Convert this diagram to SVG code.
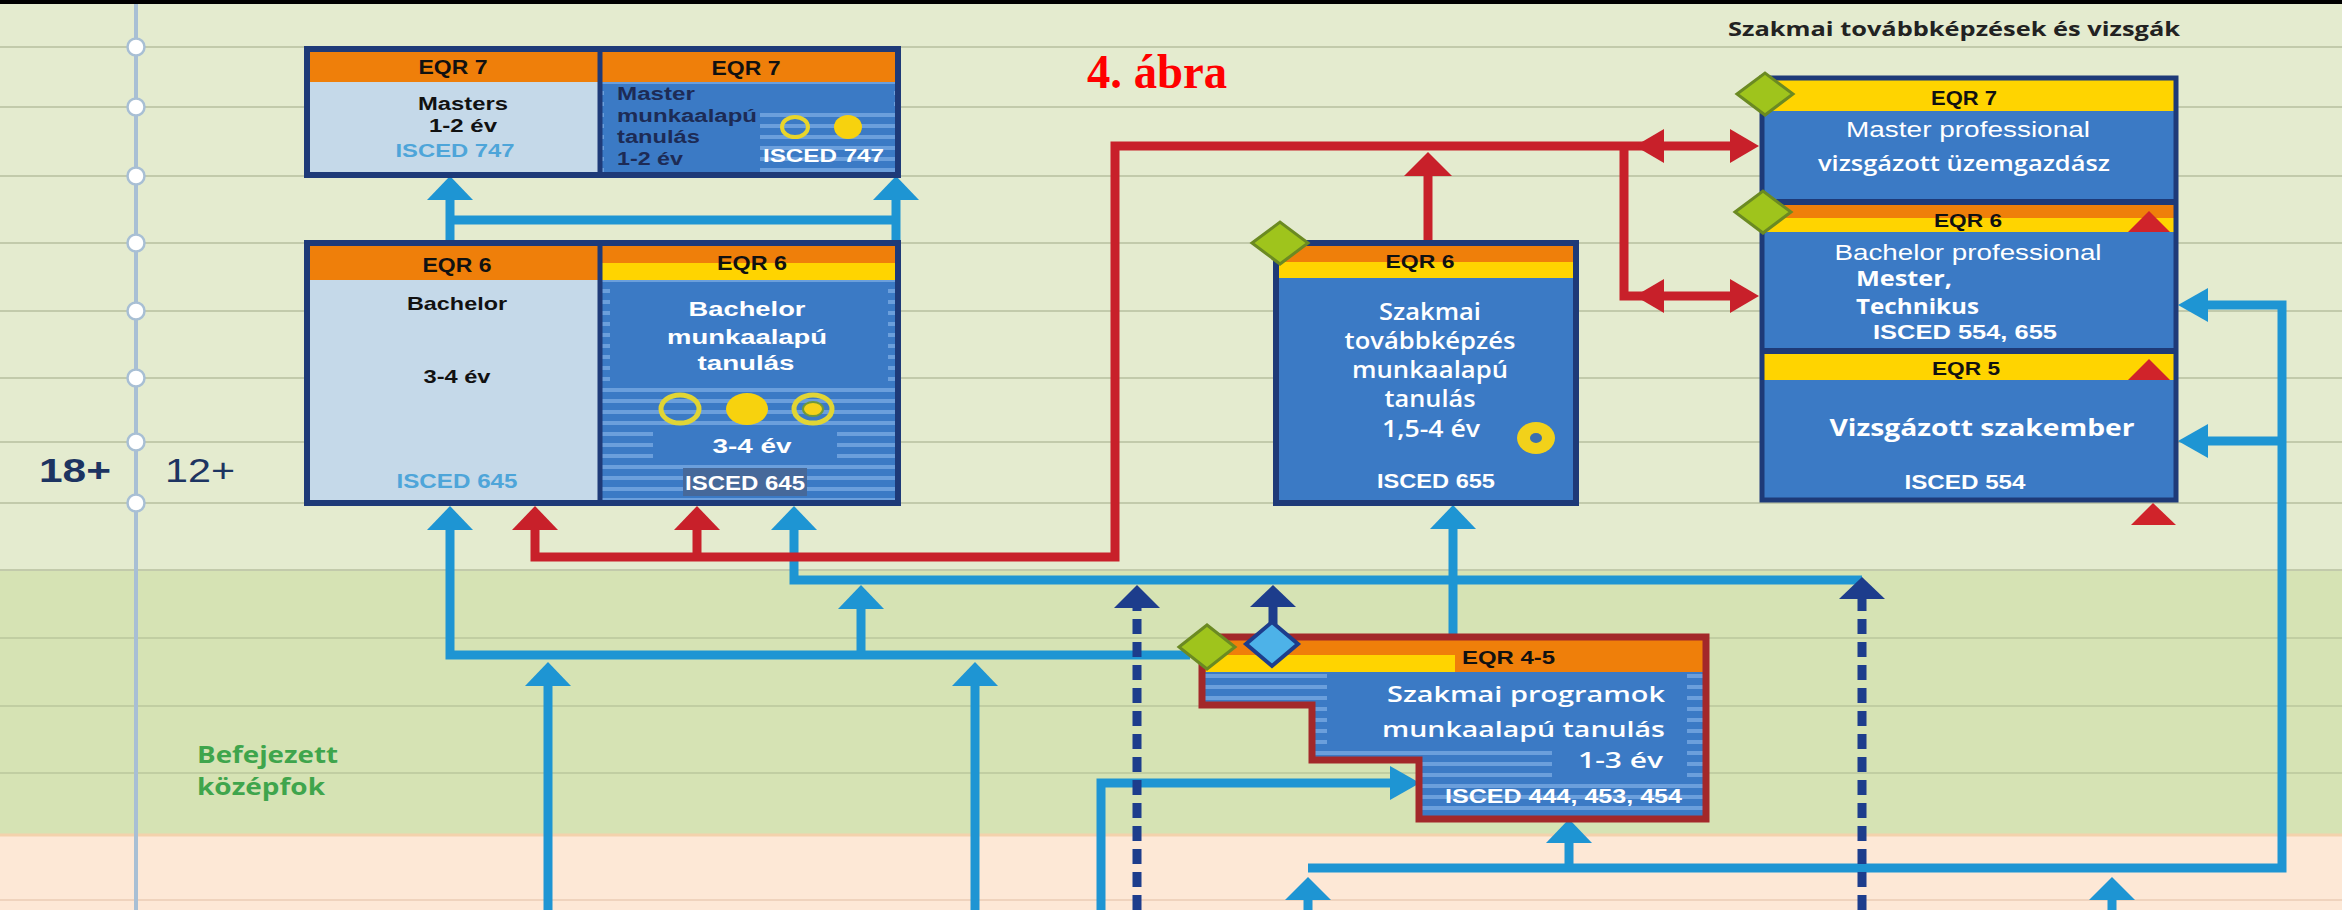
<svg xmlns="http://www.w3.org/2000/svg" width="2342" height="910" viewBox="0 0 2342 910">
<defs>
<pattern id="stripes" width="12" height="11" patternUnits="userSpaceOnUse">
<rect width="12" height="11" fill="#3b7ac5"/>
<rect y="3" width="12" height="4" fill="#6b9fdc"/>
</pattern>
<style>
.cb{font-family:"Liberation Sans",Arial,sans-serif;font-weight:bold;}
.os{font-family:"Open Sans","Liberation Sans",sans-serif;}
.w{fill:#ffffff}
.nav{fill:#1d2b55}
.blk{fill:#111111}
.lb{fill:#4ea5d9}
.blue{fill:none;stroke:#1e95d3;stroke-width:9}
.bh{fill:#1e95d3}
.red{fill:none;stroke:#c8202a;stroke-width:9}
.rh{fill:#c8202a}
.navy{fill:none;stroke:#1d3d8c;stroke-width:9}
.nh{fill:#1d3d8c}
.grid{stroke:#c2caab;stroke-width:2}
.bord{fill:none;stroke:#1e3a78;stroke-width:6}
.gd{fill:#9fc41c;stroke:#6b8a22;stroke-width:3}
.tri{fill:#d0232a}
.org{fill:#ef7f0a}
.yel{fill:#ffd400}
.bb{fill:#3b7ac5}
.lbc{fill:#c5d9e9}
</style>
</defs>

<g id="background">
<rect width="2342" height="910" fill="#e4ebcf"/>
<rect y="570" width="2342" height="265" fill="#d6e3b4"/>
<rect y="835" width="2342" height="75" fill="#fde8d6"/>
<line x1="0" y1="835" x2="2342" y2="835" stroke="#f3d2ac" stroke-width="3"/>
<g class="grid">
<line x1="0" y1="47" x2="2342" y2="47"/>
<line x1="0" y1="107" x2="2342" y2="107"/>
<line x1="0" y1="176" x2="2342" y2="176"/>
<line x1="0" y1="243" x2="2342" y2="243"/>
<line x1="0" y1="311" x2="2342" y2="311"/>
<line x1="0" y1="378" x2="2342" y2="378"/>
<line x1="0" y1="442" x2="2342" y2="442"/>
<line x1="0" y1="503" x2="2342" y2="503"/>
<line x1="0" y1="570" x2="2342" y2="570"/>
<line x1="0" y1="638" x2="2342" y2="638" stroke="#c1cea2"/>
<line x1="0" y1="706" x2="2342" y2="706" stroke="#c1cea2"/>
<line x1="0" y1="773" x2="2342" y2="773" stroke="#c1cea2"/>
<line x1="0" y1="900" x2="2342" y2="900" stroke="#efd3bd"/>
</g>
<rect width="2342" height="4" fill="#000000"/>
</g>

<g id="timeline">
<line x1="136" y1="4" x2="136" y2="910" stroke="#a8bfd4" stroke-width="4"/>
<g fill="#ffffff" stroke="#a8bfd4" stroke-width="2.5">
<circle cx="136" cy="47" r="8.5"/>
<circle cx="136" cy="107" r="8.5"/>
<circle cx="136" cy="176" r="8.5"/>
<circle cx="136" cy="243" r="8.5"/>
<circle cx="136" cy="311" r="8.5"/>
<circle cx="136" cy="378" r="8.5"/>
<circle cx="136" cy="442" r="8.5"/>
<circle cx="136" cy="503" r="8.5"/>
</g>
<text x="39" y="482" class="cb" font-size="34" fill="#1d3461" textLength="72" lengthAdjust="spacingAndGlyphs">18+</text>
<text x="165" y="482" font-family="Liberation Sans, Arial, sans-serif" font-size="34" fill="#1d3461" textLength="70" lengthAdjust="spacingAndGlyphs">12+</text>
</g>

<g id="labels">
<text x="1087" y="88" font-family="Liberation Serif, Times New Roman, serif" font-weight="bold" font-size="48" fill="#ff0000" textLength="140" lengthAdjust="spacingAndGlyphs">4. ábra</text>
<text x="1728" y="36" class="os" font-weight="700" font-size="20" fill="#222222" textLength="452" lengthAdjust="spacingAndGlyphs">Szakmai továbbképzések és vizsgák</text>
<text x="197" y="763" class="os" font-weight="700" font-size="23" fill="#3fa54c" textLength="141" lengthAdjust="spacingAndGlyphs">Befejezett</text>
<text x="197" y="795" class="os" font-weight="700" font-size="23" fill="#3fa54c" textLength="128" lengthAdjust="spacingAndGlyphs">középfok</text>
</g>

<g id="connectors">
<path class="blue" d="M450 242 V200 M896 242 V200 M450 220 H896"/>
<path class="blue" d="M450 530 V655 H1190"/>
<path class="blue" d="M861 655 V609"/>
<path class="blue" d="M794 530 V580 H1862"/>
<path class="blue" d="M548 910 V686"/>
<path class="blue" d="M975 910 V686"/>
<path class="blue" d="M1101 910 V783 H1392"/>
<path class="blue" d="M1308 910 V900"/>
<path class="blue" d="M1308 868 H2282 V305 H2206 M2282 441 H2206"/>
<path class="blue" d="M1569 868 V843"/>
<path class="blue" d="M2112 910 V900"/>
<path class="blue" d="M1453 637 V529"/>
<g class="bh">
<polygon points="450,176 427,200 473,200"/>
<polygon points="896,176 873,200 919,200"/>
<polygon points="450,506 427,530 473,530"/>
<polygon points="794,506 771,530 817,530"/>
<polygon points="861,585 838,609 884,609"/>
<polygon points="548,662 525,686 571,686"/>
<polygon points="975,662 952,686 998,686"/>
<polygon points="1420,783 1390,766 1390,800"/>
<polygon points="1308,877 1285,900 1331,900"/>
<polygon points="2112,877 2089,900 2135,900"/>
<polygon points="1569,819 1546,843 1592,843"/>
<polygon points="2178,305 2208,288 2208,322"/>
<polygon points="2178,441 2208,424 2208,458"/>
<polygon points="1453,505 1430,529 1476,529"/>
</g>
<path class="navy" d="M1137 910 V608" stroke-dasharray="15 8"/>
<path class="navy" d="M1862 910 V599" stroke-dasharray="15 8"/>
<path class="navy" d="M1273 624 V606"/>
<g class="nh">
<polygon points="1137,585 1114,608 1160,608"/>
<polygon points="1862,577 1839,599 1885,599"/>
<polygon points="1273,585 1250,607 1296,607"/>
</g>
<path class="red" d="M535 530 V557 H1115 V146 H1731"/>
<path class="red" d="M1624 146 V296 H1731"/>
<path class="red" d="M697 557 V530"/>
<path class="red" d="M1428 243 V175"/>
<g class="rh">
<polygon points="535,506 512,530 558,530"/>
<polygon points="697,506 674,530 720,530"/>
<polygon points="1428,152 1404,176 1452,176"/>
<polygon points="1759,146 1730,129 1730,163"/>
<polygon points="1635,146 1664,129 1664,163"/>
<polygon points="1759,296 1730,279 1730,313"/>
<polygon points="1635,296 1664,279 1664,313"/>
</g>
</g>

<g id="node-masters">
<rect x="307" y="49" width="293" height="33" class="org"/>
<rect x="307" y="82" width="293" height="93" class="lbc"/>
<text x="453" y="74" class="cb blk" font-size="20" text-anchor="middle" textLength="69" lengthAdjust="spacingAndGlyphs">EQR 7</text>
<text x="463" y="110" class="cb blk" font-size="18" text-anchor="middle" textLength="90" lengthAdjust="spacingAndGlyphs">Masters</text>
<text x="463" y="132" class="cb blk" font-size="18" text-anchor="middle" textLength="68" lengthAdjust="spacingAndGlyphs">1-2 év</text>
<text x="455" y="157" class="cb lb" font-size="19" text-anchor="middle" textLength="119" lengthAdjust="spacingAndGlyphs">ISCED 747</text>
</g>

<g id="node-master-wbl">
<rect x="600" y="49" width="298" height="33" class="org"/>
<rect x="600" y="82" width="298" height="93" fill="url(#stripes)"/>
<rect x="604" y="84" width="156" height="88" class="bb"/>
<rect x="760" y="84" width="134" height="26" class="bb"/>
<text x="746" y="75" class="cb blk" font-size="20" text-anchor="middle" textLength="69" lengthAdjust="spacingAndGlyphs">EQR 7</text>
<text x="617" y="100" class="cb nav" font-size="18" textLength="78" lengthAdjust="spacingAndGlyphs">Master</text>
<text x="617" y="122" class="cb nav" font-size="18" textLength="140" lengthAdjust="spacingAndGlyphs">munkaalapú</text>
<text x="617" y="143" class="cb nav" font-size="18" textLength="83" lengthAdjust="spacingAndGlyphs">tanulás</text>
<text x="617" y="165" class="cb nav" font-size="18" textLength="66" lengthAdjust="spacingAndGlyphs">1-2 év</text>
<ellipse cx="795" cy="127" rx="13" ry="10" fill="none" stroke="#e8d52a" stroke-width="4"/>
<ellipse cx="848" cy="127" rx="14" ry="12" fill="#f7d20e"/>
<text x="763" y="162" class="cb w" font-size="19" textLength="121" lengthAdjust="spacingAndGlyphs">ISCED 747</text>
<rect x="307" y="49" width="591" height="126" class="bord"/>
<line x1="600" y1="49" x2="600" y2="175" stroke="#1e3a78" stroke-width="5"/>
</g>

<g id="node-bachelor">
<rect x="307" y="243" width="293" height="37" class="org"/>
<rect x="307" y="280" width="293" height="223" class="lbc"/>
<text x="457" y="272" class="cb blk" font-size="20" text-anchor="middle" textLength="69" lengthAdjust="spacingAndGlyphs">EQR 6</text>
<text x="457" y="310" class="cb blk" font-size="19" text-anchor="middle" textLength="100" lengthAdjust="spacingAndGlyphs">Bachelor</text>
<text x="457" y="383" class="cb blk" font-size="19" text-anchor="middle" textLength="67" lengthAdjust="spacingAndGlyphs">3-4 év</text>
<text x="457" y="488" class="cb lb" font-size="20" text-anchor="middle" textLength="121" lengthAdjust="spacingAndGlyphs">ISCED 645</text>
</g>

<g id="node-bachelor-wbl">
<rect x="600" y="243" width="298" height="20" class="org"/>
<rect x="600" y="263" width="298" height="17" class="yel"/>
<rect x="600" y="280" width="298" height="223" fill="url(#stripes)"/>
<rect x="610" y="282" width="278" height="103" class="bb"/>
<rect x="653" y="431" width="184" height="33" class="bb"/>
<rect x="683" y="468" width="124" height="28" fill="#46699a"/>
<text x="752" y="270" class="cb blk" font-size="20" text-anchor="middle" textLength="70" lengthAdjust="spacingAndGlyphs">EQR 6</text>
<text x="747" y="316" class="cb w" font-size="20" text-anchor="middle" textLength="117" lengthAdjust="spacingAndGlyphs">Bachelor</text>
<text x="747" y="344" class="cb w" font-size="20" text-anchor="middle" textLength="160" lengthAdjust="spacingAndGlyphs">munkaalapú</text>
<text x="746" y="370" class="cb w" font-size="20" text-anchor="middle" textLength="97" lengthAdjust="spacingAndGlyphs">tanulás</text>
<ellipse cx="680" cy="409" rx="19" ry="14" fill="none" stroke="#e1d535" stroke-width="5"/>
<ellipse cx="747" cy="409" rx="21" ry="16" fill="#f7d20e"/>
<ellipse cx="813" cy="409" rx="19" ry="14" fill="none" stroke="#e1d535" stroke-width="5"/>
<ellipse cx="813" cy="409" rx="10" ry="7" fill="#f5d21a" stroke="#6f9a3a" stroke-width="2"/>
<text x="752" y="453" class="cb w" font-size="20" text-anchor="middle" textLength="79" lengthAdjust="spacingAndGlyphs">3-4 év</text>
<text x="745" y="490" class="cb w" font-size="20" text-anchor="middle" textLength="120" lengthAdjust="spacingAndGlyphs">ISCED 645</text>
<rect x="307" y="243" width="591" height="260" class="bord"/>
<line x1="600" y1="243" x2="600" y2="503" stroke="#1e3a78" stroke-width="5"/>
</g>

<g id="node-szakmai-tovabbkepzes">
<rect x="1276" y="243" width="300" height="260" class="bb"/>
<rect x="1276" y="243" width="300" height="19" class="org"/>
<rect x="1276" y="262" width="300" height="16" class="yel"/>
<text x="1420" y="268" class="cb blk" font-size="19" text-anchor="middle" textLength="69" lengthAdjust="spacingAndGlyphs">EQR 6</text>
<text x="1430" y="320" class="os w" font-weight="600" font-size="23" text-anchor="middle" textLength="102" lengthAdjust="spacingAndGlyphs">Szakmai</text>
<text x="1430" y="349" class="os w" font-weight="600" font-size="23" text-anchor="middle" textLength="171" lengthAdjust="spacingAndGlyphs">továbbképzés</text>
<text x="1430" y="378" class="os w" font-weight="600" font-size="23" text-anchor="middle" textLength="156" lengthAdjust="spacingAndGlyphs">munkaalapú</text>
<text x="1430" y="407" class="os w" font-weight="600" font-size="23" text-anchor="middle" textLength="91" lengthAdjust="spacingAndGlyphs">tanulás</text>
<text x="1431" y="437" class="os w" font-weight="600" font-size="23" text-anchor="middle" textLength="98" lengthAdjust="spacingAndGlyphs">1,5-4 év</text>
<ellipse cx="1536" cy="438" rx="19" ry="16" fill="#f2d11a"/>
<ellipse cx="1536" cy="438" rx="6" ry="5" fill="#3a6fb0"/>
<text x="1436" y="488" class="cb w" font-size="20" text-anchor="middle" textLength="118" lengthAdjust="spacingAndGlyphs">ISCED 655</text>
<rect x="1276" y="243" width="300" height="260" class="bord"/>
<polygon points="1252,243 1280,222 1308,243 1280,264" class="gd"/>
</g>

<g id="node-szakmai-vizsgak">
<rect x="1762" y="78" width="414" height="422" class="bb"/>
<rect x="1762" y="78" width="414" height="33" class="yel"/>
<rect x="1762" y="199" width="414" height="6" fill="#1e3a78"/>
<rect x="1762" y="205" width="414" height="13" class="org"/>
<rect x="1762" y="218" width="414" height="14" class="yel"/>
<rect x="1762" y="348" width="414" height="6" fill="#1e3a78"/>
<rect x="1762" y="354" width="414" height="26" class="yel"/>
<polygon points="2149,211 2128,232 2170,232" class="tri"/>
<polygon points="2149,359 2128,380 2170,380" class="tri"/>
<text x="1964" y="105" class="cb blk" font-size="20" text-anchor="middle" textLength="66" lengthAdjust="spacingAndGlyphs">EQR 7</text>
<text x="1968" y="137" font-family="Liberation Sans, Arial, sans-serif" font-size="22" class="w" text-anchor="middle" textLength="244" lengthAdjust="spacingAndGlyphs">Master professional</text>
<text x="1964" y="171" class="os w" font-weight="600" font-size="21" text-anchor="middle" textLength="292" lengthAdjust="spacingAndGlyphs">vizsgázott üzemgazdász</text>
<text x="1968" y="227" class="cb blk" font-size="19" text-anchor="middle" textLength="68" lengthAdjust="spacingAndGlyphs">EQR 6</text>
<text x="1968" y="260" font-family="Liberation Sans, Arial, sans-serif" font-size="22" class="w" text-anchor="middle" textLength="267" lengthAdjust="spacingAndGlyphs">Bachelor professional</text>
<text x="1856" y="286" class="os w" font-weight="700" font-size="21" textLength="96" lengthAdjust="spacingAndGlyphs">Mester,</text>
<text x="1856" y="314" class="os w" font-weight="700" font-size="21" textLength="123" lengthAdjust="spacingAndGlyphs">Technikus</text>
<text x="1873" y="339" class="cb w" font-size="21" textLength="184" lengthAdjust="spacingAndGlyphs">ISCED 554, 655</text>
<text x="1966" y="375" class="cb blk" font-size="19" text-anchor="middle" textLength="68" lengthAdjust="spacingAndGlyphs">EQR 5</text>
<text x="1982" y="436" class="os w" font-weight="700" font-size="24" text-anchor="middle" textLength="305" lengthAdjust="spacingAndGlyphs">Vizsgázott szakember</text>
<text x="1965" y="489" class="cb w" font-size="20" text-anchor="middle" textLength="121" lengthAdjust="spacingAndGlyphs">ISCED 554</text>
<rect x="1762" y="78" width="414" height="422" fill="none" stroke="#1e3a78" stroke-width="5"/>
<polygon points="1737,94 1765,73 1793,94 1765,115" class="gd"/>
<polygon points="1735,212 1763,191 1791,212 1763,233" class="gd"/>
<polygon points="2153,503 2131,525 2176,525" class="tri"/>
</g>

<g id="node-szakmai-programok">
<path d="M1202 637 H1706 V819 H1419 V760 H1312 V705 H1202 Z" fill="url(#stripes)"/>
<rect x="1202" y="637" width="504" height="35" class="org"/>
<rect x="1206" y="655" width="249" height="17" class="yel"/>
<rect x="1327" y="674" width="360" height="72" class="bb"/>
<rect x="1552" y="746" width="135" height="32" class="bb"/>
<text x="1462" y="664" class="cb blk" font-size="18" textLength="93" lengthAdjust="spacingAndGlyphs">EQR 4-5</text>
<text x="1665" y="702" class="os w" font-weight="600" font-size="22" text-anchor="end" textLength="278" lengthAdjust="spacingAndGlyphs">Szakmai programok</text>
<text x="1665" y="737" class="os w" font-weight="600" font-size="22" text-anchor="end" textLength="283" lengthAdjust="spacingAndGlyphs">munkaalapú tanulás</text>
<text x="1663" y="768" class="os w" font-weight="600" font-size="22" text-anchor="end" textLength="85" lengthAdjust="spacingAndGlyphs">1-3 év</text>
<text x="1445" y="803" class="cb w" font-size="20" textLength="237" lengthAdjust="spacingAndGlyphs">ISCED 444, 453, 454</text>
<path d="M1202 637 H1706 V819 H1419 V760 H1312 V705 H1202 Z" fill="none" stroke="#a3282a" stroke-width="7"/>
<polygon points="1179,647 1207,625 1235,647 1207,669" class="gd"/>
<polygon points="1246,644 1272,622 1298,644 1272,666" fill="#4db2e8" stroke="#1d3d8c" stroke-width="4"/>
</g>
</svg>
